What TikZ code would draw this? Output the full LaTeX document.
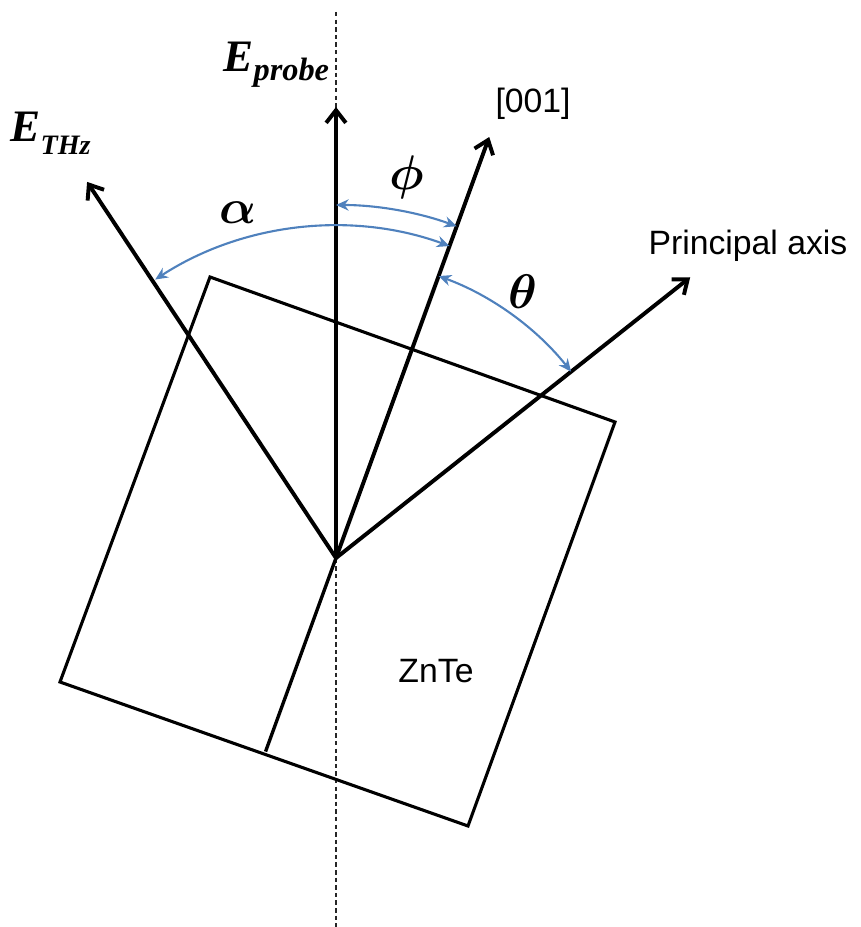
\documentclass[tikz,border=0pt]{standalone}
\usepackage{fontspec}
\setmainfont{Liberation Sans}
\newfontfamily\timesfont{Liberation Serif}
\usepackage{bm}
\usepackage{xcolor}
\usepackage{tikz}
\usetikzlibrary{arrows.meta}
\definecolor{arcblue}{RGB}{79,129,189}
\newcommand{\fieldsub}[3]{\raisebox{-#1}{\fontsize{#2}{12}\selectfont #3}}

\begin{document}
\begin{tikzpicture}[x=0.0125cm,y=0.0125cm,
          vec/.style={line width=1.4pt,-{Straight Barb[length=4.5pt,width=7pt]}},
          crystal/.style={line width=1.1pt,line join=miter},
          normal/.style={line width=0.55pt,black!85,dash pattern=on 1.6pt off 1.1pt},
          angarc/.style={draw=arcblue,line width=0.75pt,{Stealth[length=4.5pt,width=4pt]}-{Stealth[length=4.5pt,width=4pt]}},
          sans/.style={font=\fontsize{12}{14}\selectfont,inner sep=0pt},
          field/.style={font=\fontsize{16}{18}\selectfont\timesfont\bfseries\itshape,inner sep=0pt},
          greek/.style={font=\fontsize{19}{22}\selectfont,inner sep=0pt}]
        \useasboundingbox (-336,-369) rectangle (525,558);
        \coordinate (O) at (0,0);
        % crystal corners
        \coordinate (tl) at (-126,281);
        \coordinate (tr) at (279,136);
        \coordinate (br) at (132,-268);
        \coordinate (bl) at (-276,-124);
        % vertical reference line
        \coordinate (vtop) at (0,546);
        \coordinate (vbot) at (0,-369);
        % arrow tips
        \coordinate (probe) at (90:451);
        \coordinate (c001)  at (70:448);
        \coordinate (thz)   at (123.5:451);
        \coordinate (pa)    at (38.4:452);
        \coordinate (foot)  at (250:206);
        \draw[normal] (vtop) -- (vbot);
        \draw[crystal] (tl) -- (tr) -- (br) -- (bl) -- cycle;
        \draw[line width=1.2pt] (O) -- (foot);
        \draw[vec] (O) -- (probe);
        \draw[vec] (O) -- (c001);
        \draw[vec] (O) -- (thz);
        \draw[vec] (O) -- (pa);
        % angles
        \draw[angarc] ([shift={(90:353)}]O) arc[start angle=90,end angle=70,radius=353];
        \draw[angarc] ([shift={(123:332)}]O) arc[start angle=123,end angle=70,radius=332];
        \draw[angarc] ([shift={(70:300)}]O) arc[start angle=70,end angle=38.4,radius=300];
        % labels
        \node[field,anchor=base west] (lprobe) at (-113,486) {E\fieldsub{3.2pt}{11.5}{probe}};
        \node[field,anchor=base west] (lthz)   at (-326,416) {E\fieldsub{4.5pt}{10}{THz}};
        \node[sans,anchor=base west]  (l001)   at (159,445) {[001]};
        \node[sans,anchor=base west]  (lpa)    at (312,303) {Principal axis};
        \node[sans]                   (lznte)  at (100,-113) {ZnTe};
        \node[greek] (lalpha) at (-98,345) {$\bm{\alpha}$};
        \node[greek] (lphi)   at (71,381)  {$\bm{\phi}$};
        \node[greek] (ltheta) at (187,266) {$\bm{\theta}$};
      \end{tikzpicture}
\end{document}
